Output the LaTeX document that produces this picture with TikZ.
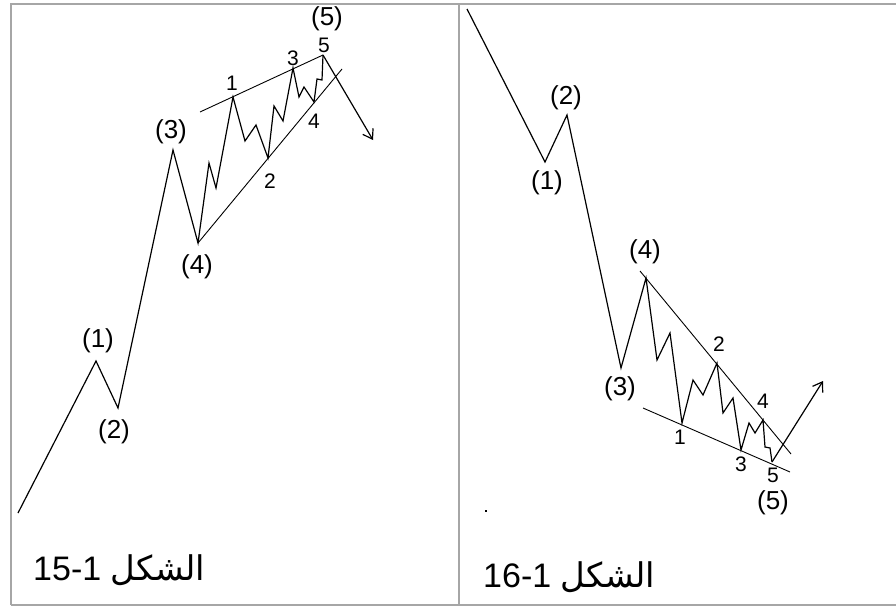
\documentclass[tikz,border=0pt]{standalone}
\usepackage{fontspec}
\setmainfont{Liberation Sans}
\newfontfamily\arabicfont[Script=Arabic]{DejaVu Sans}
\TeXXeTstate=1
\usetikzlibrary{arrows.meta}
\begin{document}
\begin{tikzpicture}[x=1pt,y=-1pt,
  wave/.style={line width=1.2pt,line join=miter},
  trend/.style={line width=0.9pt},
  frameline/.style={draw=black!35,line width=2.6pt},
  biglbl/.style={font=\fontsize{26}{30}\selectfont,inner sep=0pt},
  smalllbl/.style={font=\fontsize{21}{25}\selectfont,inner sep=0pt},
  caplbl/.style={font=\fontsize{34}{38}\selectfont,inner sep=0pt,anchor=base west},
  arr/.style={-{Straight Barb[length=9pt,width=12pt,line width=1.2pt]}}]
\useasboundingbox (0,0) rectangle (896,607);
\fill[white] (0,0) rectangle (896,607);
% frame
\draw[frameline] (11,605) -- (11,4) -- (896,4);
\draw[frameline] (11,605) -- (896,605);
\draw[frameline] (459,4) -- (459,605);

% ---------- left panel ----------
\coordinate (L0) at (18,513);
\coordinate (L1) at (96,361);
\coordinate (L2) at (118,408);
\coordinate (L3) at (173,150);
\coordinate (L4) at (198,243);
\coordinate (La) at (209,163);
\coordinate (Lb) at (216,188);
\coordinate (Ls1) at (233,97);
\coordinate (Lc) at (245,141);
\coordinate (Ld) at (256,125);
\coordinate (Ls2) at (268,158);
\coordinate (Le) at (274,106);
\coordinate (Lf) at (283,121);
\coordinate (Ls3) at (293,68);
\coordinate (Lg) at (299,97);
\coordinate (Lh) at (304,87);
\coordinate (Ls4) at (314,102);
\coordinate (Li) at (317,79);
\coordinate (Lj) at (322,80);
\coordinate (Ls5) at (323,55);
\coordinate (Ltip) at (373,140);
\coordinate (LuA) at (200,112);
\coordinate (LlB) at (342,69);

\draw[wave] (L0) -- (L1) -- (L2) -- (L3) -- (L4) -- (La) -- (Lb) -- (Ls1) -- (Lc) -- (Ld) -- (Ls2)
  -- (Le) -- (Lf) -- (Ls3) -- (Lg) -- (Lh) -- (Ls4) -- (Li) -- (Lj) -- (Ls5);
\draw[wave,arr] (Ls5) -- (Ltip);
\draw[trend] (LuA) -- (Ls5);
\draw[trend] (L4) -- (LlB);

\node[biglbl] (tL1) at (98,341) {(1)};
\node[biglbl] (tL2) at (114,432) {(2)};
\node[biglbl] (tL3) at (171,132) {(3)};
\node[biglbl] (tL4) at (197,267) {(4)};
\node[biglbl] (tL5) at (327,19) {(5)};
\node[smalllbl] (sL1) at (232,83) {1};
\node[smalllbl] (sL2) at (270,181) {2};
\node[smalllbl] (sL3) at (293,58) {3};
\node[smalllbl] (sL4) at (314,121) {4};
\node[smalllbl] (sL5) at (324,45) {5};

\node[caplbl] (capL) at (33,580) {15-1 {\arabicfont\beginR الشكل\endR}};

% ---------- right panel ----------
\coordinate (R0) at (467,9);
\coordinate (R1) at (545,162);
\coordinate (R2) at (567,115);
\coordinate (R3) at (621,368);
\coordinate (R4) at (646,278);
\coordinate (Ra) at (657,360);
\coordinate (Rb) at (670,333);
\coordinate (Rs1) at (682,423);
\coordinate (Rc) at (693,380);
\coordinate (Rd) at (703,395);
\coordinate (Rs2) at (717,363);
\coordinate (Re) at (723,413);
\coordinate (Rf) at (733,398);
\coordinate (Rs3) at (741,450);
\coordinate (Rg) at (749,423);
\coordinate (Rh) at (755,433);
\coordinate (Rs4) at (763,420);
\coordinate (Ri) at (765,447);
\coordinate (Rj) at (770,448);
\coordinate (Rs5) at (772,462);
\coordinate (Rtip) at (823,381);
\coordinate (RuA) at (640,271);
\coordinate (RuB) at (791,454);
\coordinate (RlA) at (643,408);
\coordinate (RlB) at (790,472);

\draw[wave] (R0) -- (R1) -- (R2) -- (R3) -- (R4) -- (Ra) -- (Rb) -- (Rs1) -- (Rc) -- (Rd) -- (Rs2)
  -- (Re) -- (Rf) -- (Rs3) -- (Rg) -- (Rh) -- (Rs4) -- (Ri) -- (Rj) -- (Rs5);
\draw[wave,arr] (Rs5) -- (Rtip);
\draw[trend] (RuA) -- (RuB);
\draw[trend] (RlA) -- (RlB);

\node[biglbl] (tR1) at (547,183) {(1)};
\node[biglbl] (tR2) at (566,98) {(2)};
\node[biglbl] (tR3) at (620,389) {(3)};
\node[biglbl] (tR4) at (645,252) {(4)};
\node[biglbl] (tR5) at (773,503) {(5)};
\node[smalllbl] (sR1) at (680,437) {1};
\node[smalllbl] (sR2) at (719,344) {2};
\node[smalllbl] (sR3) at (741,464) {3};
\node[smalllbl] (sR4) at (763,401) {4};
\node[smalllbl] (sR5) at (773,475) {5};

\fill (485,510) rectangle (487,512);

\node[caplbl] (capR) at (483,587) {16-1 {\arabicfont\beginR الشكل\endR}};
\end{tikzpicture}
\end{document}
